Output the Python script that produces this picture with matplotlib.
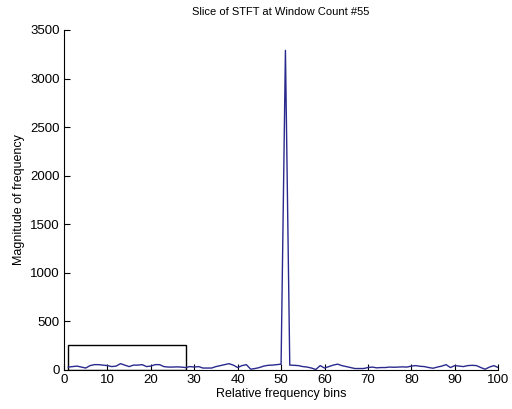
import matplotlib
matplotlib.use("Agg")
import matplotlib.pyplot as plt
from matplotlib.patches import Rectangle

# Magnitude spectrum of one STFT window, bins 1..100
bins = list(range(1, 101))
magnitude = [
    30, 35, 40, 30, 20, 45, 55, 55, 50, 45,
    35, 40, 65, 50, 35, 50, 50, 55, 35, 40,
    55, 55, 35, 30, 30, 32, 30, 25, 35, 30,
    35, 20, 20, 20, 35, 45, 55, 65, 50, 25,
    45, 55, 8, 15, 25, 40, 48, 50, 55, 60,
    3290, 50, 48, 45, 35, 30, 20, 5, 45, 20,
    35, 50, 60, 45, 35, 25, 15, 15, 15, 25,
    30, 22, 25, 25, 30, 28, 30, 32, 30, 40,
    45, 38, 35, 25, 18, 30, 40, 55, 25, 45,
    40, 35, 45, 48, 45, 25, 8, 30, 45, 25,
]

# Highlighted low-frequency region
box_x = [1, 28]
box_height = 260

xticks = list(range(0, 101, 10))
yticks = list(range(0, 3501, 500))

plt.rcParams["font.family"] = ["Liberation Sans", "DejaVu Sans"]

fig = plt.figure(figsize=(5.12, 4.09), dpi=100)
ax = fig.add_axes([0.125, 0.0954, 0.848, 0.8313])

ax.plot(bins, magnitude, color="#2a2a8e", linewidth=1.0)
ax.add_patch(Rectangle((box_x[0], 0), box_x[1] - box_x[0], box_height,
                       fill=False, edgecolor="black", linewidth=1.0))

ax.set_xlim(0, 100)
ax.set_ylim(0, 3500)
ax.set_xticks(xticks)
ax.set_yticks(yticks)
ax.tick_params(direction="in", length=4, width=0.8, labelsize=9.5,
               top=False, right=False, pad=3)
for side in ("top", "right"):
    ax.spines[side].set_visible(False)
for side in ("left", "bottom"):
    ax.spines[side].set_linewidth(0.8)

ax.set_title("Slice of STFT at Window Count #55", fontsize=8, pad=11)
ax.set_xlabel("Relative frequency bins", fontsize=9, labelpad=1)
ax.set_ylabel("Magnitude of frequency", fontsize=9, labelpad=4)

fig.savefig("out.png", dpi=100)
